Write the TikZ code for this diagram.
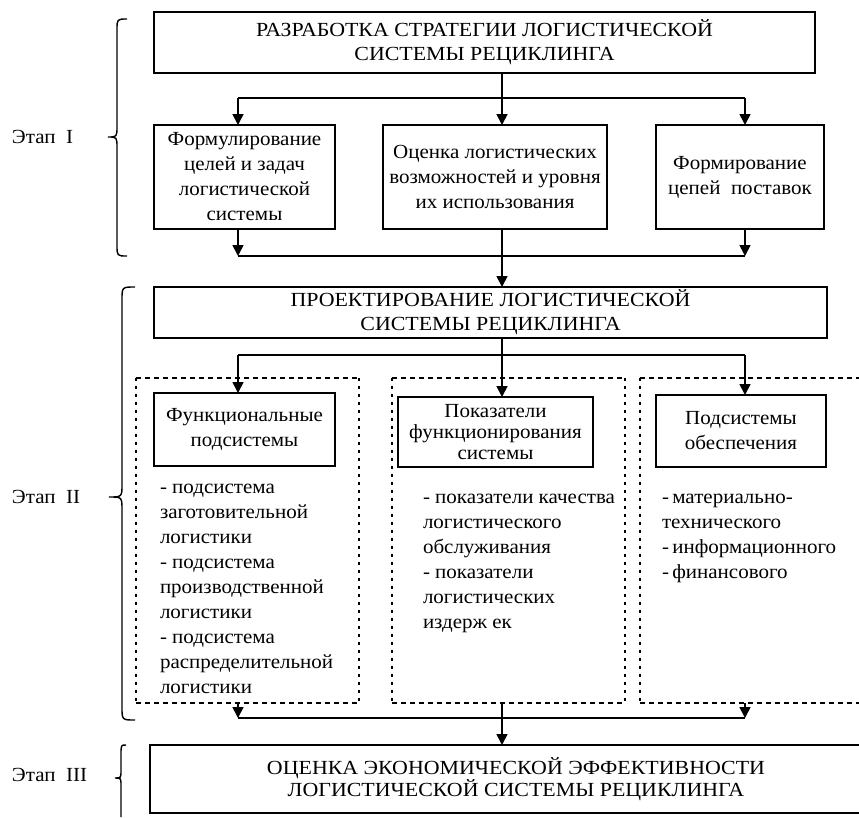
\documentclass[tikz,border=0pt]{standalone}
\usepackage{fontspec}
\setmainfont[FakeStretch=1.05]{Liberation Serif}
\newfontfamily\capsfont[FakeStretch=1.095]{Liberation Serif}
\usetikzlibrary{arrows.meta}
\begin{document}
\begin{tikzpicture}[x=1pt,y=-1pt,
  every node/.style={font=\fontsize{20}{25}\selectfont, outer sep=0pt},
  box/.style={draw, line width=1.7pt, inner sep=2pt, align=center, anchor=north west},
  capbox/.style={box, font=\capsfont\fontsize{20}{24}\selectfont},
  lst/.style={anchor=north west, inner sep=0pt, align=left},
  lbl/.style={anchor=west, inner sep=0pt},
  ln/.style={line width=1.7pt},
  arr/.style={line width=1.7pt, -{Triangle[width=11pt,length=11pt]}},
  dashh/.style={line width=2pt, dash pattern=on 5pt off 4pt},
  dashv/.style={line width=2pt, dash pattern=on 3pt off 5pt},
  brc/.style={line width=1.4pt}]
\clip (0,0) rectangle (859,817);
\useasboundingbox (0,0) rectangle (859,817);

% boxes
\node[capbox, minimum width=661pt, minimum height=61pt] (T) at (154,12)
  {РАЗРАБОТКА СТРАТЕГИИ ЛОГИСТИЧЕСКОЙ\\СИСТЕМЫ РЕЦИКЛИНГА};
\node[box, minimum width=181pt, minimum height=104pt] (F1) at (154,125)
  {Формулирование\\целей и задач\\логистической\\системы};
\node[box, minimum width=224pt, minimum height=104pt] (F2) at (383,125)
  {Оценка логистических\\возможностей и уровня\\их использования};
\node[box, minimum width=168pt, minimum height=104pt] (F3) at (656,125)
  {Формирование\\цепей\ \ поставок};
\node[capbox, minimum width=673pt, minimum height=51pt] (P) at (154,287)
  {ПРОЕКТИРОВАНИЕ ЛОГИСТИЧЕСКОЙ\\СИСТЕМЫ РЕЦИКЛИНГА};

% dashed groups
\draw[dashh] (136,378) -- (359,378);
\draw[dashh] (136,703) -- (359,703);
\draw[dashh] (392,378) -- (625,378);
\draw[dashh] (392,703) -- (625,703);
\draw[dashh] (640,378) -- (859,378);
\draw[dashh] (640,703) -- (859,703);
\draw[dashv] (136,378) -- (136,703);
\draw[dashv] (359,378) -- (359,703);
\draw[dashv] (392,378) -- (392,703);
\draw[dashv] (625,378) -- (625,703);
\draw[dashv] (640,378) -- (640,703);

\node[box, minimum width=181pt, minimum height=73pt] (S1) at (154,393)
  {Функциональные\\подсистемы};
\node[box, minimum width=195pt, minimum height=70pt, font=\fontsize{20}{21}\selectfont] (S2) at (398,397)
  {Показатели\\функционирования\\системы};
\node[box, minimum width=170pt, minimum height=72pt] (S3) at (656,395)
  {Подсистемы\\обеспечения};

\node[lst] (L1) at (160,484)
  {- подсистема\\заготовительной\\логистики\\- подсистема\\производственной\\логистики\\- подсистема\\распределительной\\логистики};
\node[lst] (L2) at (423,494)
  {- показатели качества\\логистического\\обслуживания\\- показатели\\логистических\\издерж ек};
\node[lst] (L3) at (662,494)
  {-\,материально-\\технического\\-\,информационного\\-\,финансового};

\node[capbox, minimum width=732pt, minimum height=68pt, font=\capsfont\fontsize{20}{22}\selectfont] (E) at (150,745)
  {ОЦЕНКА ЭКОНОМИЧЕСКОЙ ЭФФЕКТИВНОСТИ\\ЛОГИСТИЧЕСКОЙ СИСТЕМЫ РЕЦИКЛИНГА};

% connectors
\coordinate (a1) at (238,98);
\coordinate (a2) at (502,98);
\coordinate (a3) at (745,98);
\draw[ln] (T.south -| a2) -- (a2);
\draw[ln] (a1) -- (a3);
\draw[arr] (a1) -- (F1.north -| a1);
\draw[arr] (a2) -- (F2.north -| a2);
\draw[arr] (a3) -- (F3.north -| a3);

\coordinate (b1) at (238,256);
\coordinate (b3) at (745,256);
\draw[arr] (F1.south -| b1) -- (b1);
\draw[arr] (F3.south -| b3) -- (b3);
\draw[ln] (b1) -- (b3);
\draw[arr] (F2.south -| a2) -- (P.north -| a2);

\coordinate (c1) at (238,355);
\coordinate (c2) at (502,355);
\coordinate (c3) at (745,355);
\draw[ln] (P.south -| c2) -- (c2);
\draw[ln] (c1) -- (c3);
\draw[arr] (c1) -- (S1.north -| c1);
\draw[arr] (c2) -- (S2.north -| c2);
\draw[arr] (c3) -- (S3.north -| c3);

\coordinate (d1) at (238,703);
\coordinate (d2) at (502,703);
\coordinate (d3) at (745,703);
\coordinate (e1) at (238,718);
\coordinate (e3) at (745,718);
\draw[arr] (d1) -- (e1);
\draw[arr] (d3) -- (e3);
\draw[line width=1.3pt] (e1) -- (e3);
\draw[arr] (d2) -- (E.north -| d2);

% braces and stage labels
\draw[brc] (127,19) .. controls (117,19) and (117,19) .. (117,30) -- (117,126)
  .. controls (117,137) and (117,137) .. (108,137)
  .. controls (117,137) and (117,137) .. (117,148) -- (117,245)
  .. controls (117,256) and (117,256) .. (127,256);
\draw[brc] (135,287) .. controls (122,287) and (122,287) .. (122,300) -- (122,484)
  .. controls (122,497) and (122,497) .. (109,497)
  .. controls (122,497) and (122,497) .. (122,510) -- (122,707)
  .. controls (122,720) and (122,720) .. (135,720);
\draw[brc] (126,745) .. controls (121,745) and (121,745) .. (121,755) -- (121,770)
  .. controls (121,778) and (121,778) .. (115,778)
  .. controls (121,778) and (121,778) .. (121,786) -- (121,817);
\node[lbl] (s1) at (12,137) {Этап\ \ I};
\node[lbl] (s2) at (12,497) {Этап\ \ II};
\node[lbl] (s3) at (12,775) {Этап\ \ III};
\end{tikzpicture}
\end{document}
